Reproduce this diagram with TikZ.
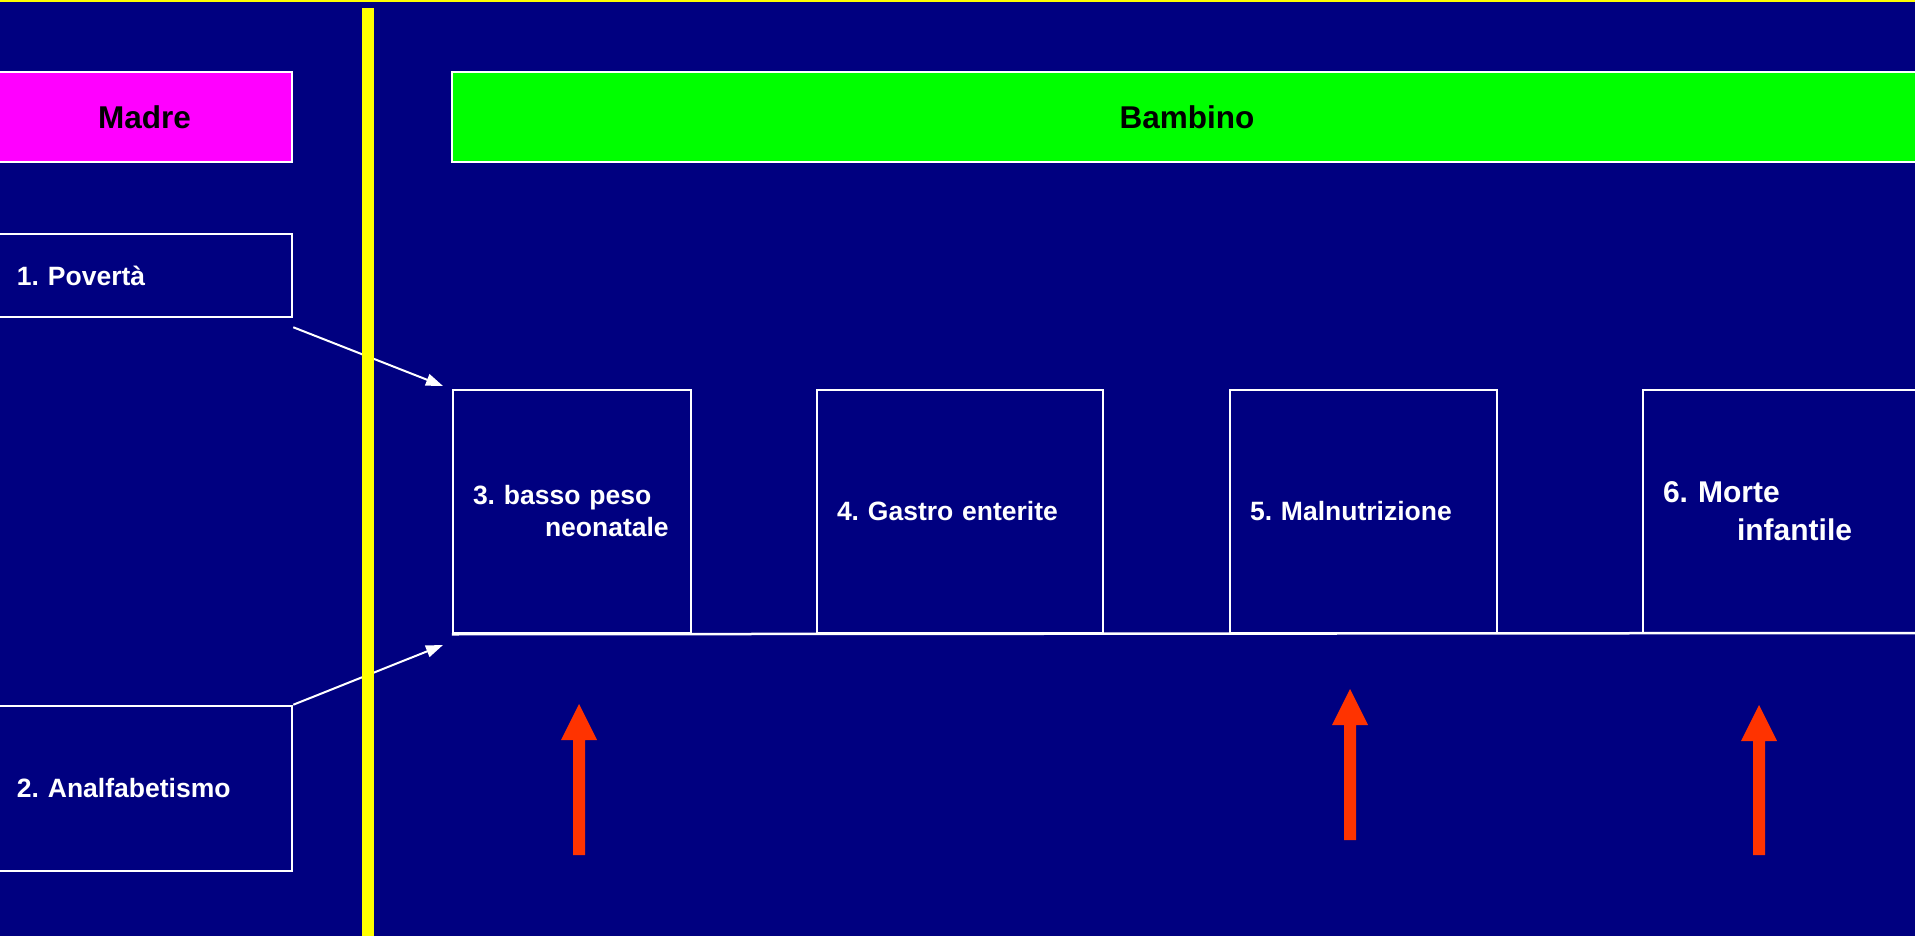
\documentclass[tikz,border=0pt]{standalone}
\usepackage{fontspec}
\setmainfont{Liberation Sans}
\usetikzlibrary{arrows.meta,calc}
\definecolor{navy}{HTML}{000080}
\definecolor{arrred}{HTML}{FF3300}
\definecolor{yel}{HTML}{FFFF00}
\definecolor{mag}{HTML}{FF00FF}
\definecolor{grn}{HTML}{00FF00}
\frenchspacing
\newcommand\redup[3]{%
  \fill[arrred] (#1-6,#3) -- (#1-6,#2+36) -- (#1-18,#2+36) -- (#1,#2) -- (#1+18,#2+36) -- (#1+6,#2+36) -- (#1+6,#3) -- cycle;}
\begin{document}
\begin{tikzpicture}[x=0.5pt,y=-0.5pt,
  box/.style={draw=white, fill=navy, line width=1.25pt, rectangle, inner sep=0pt, align=left,
    font=\bfseries\fontsize{13.25pt}{16pt}\selectfont, text=white},
  bigbox/.style={box, font=\bfseries\fontsize{15pt}{19pt}\selectfont},
  head/.style={draw=white, line width=1.25pt, rectangle, inner sep=0pt, text=black,
    font=\bfseries\fontsize{15.75pt}{19pt}\selectfont, minimum height=45pt},
  conn/.style={draw=white, line width=1pt, -{Triangle[length=8.5pt,width=6pt]}}
]
\useasboundingbox (0,0) rectangle (1915,936);
\fill[navy] (0,0) rectangle (1915,936);
\fill[yel] (0,0) rectangle (1915,2.5);

% headers
\node[head, fill=mag, minimum width=147.5pt] (madre) at (144.5,117) {Madre};
\node[head, fill=grn, minimum width=735pt] (bamb) at (1187,117) {Bambino};

% mother boxes
\node[box, minimum width=147.5pt, minimum height=41.5pt, text width=127.5pt] (pov) at (144.5,275.5) {1. Povertà};
\node[box, minimum width=147.5pt, minimum height=82.5pt, text width=127.5pt] (analf) at (144.5,788.5) {2. Analfabetismo};

% child boxes
\node[box, minimum width=119pt, minimum height=121.5pt, text width=99pt] (b3) at (572,511.5)
  {3. basso peso\\\hspace*{36pt}neonatale};
\node[box, minimum width=143pt, minimum height=121.5pt, text width=123pt] (b4) at (960,511.5)
  {4. Gastro enterite};
\node[box, minimum width=133.5pt, minimum height=121.5pt, text width=113.5pt] (b5) at (1363.5,511.5)
  {5. Malnutrizione};
\node[bigbox, minimum width=139.5pt, minimum height=121.5pt, text width=119.5pt] (b6) at (1782.5,511.5)
  {6. Morte\\\hspace*{37pt}infantile};

\coordinate (baseR) at (1915,633);
\draw[white, line width=1.25pt] (b3.south west) -- (baseR);

% connectors
\coordinate (t1) at (443,386);
\coordinate (t2) at (443,645);
\draw[conn] ($(pov.south east)+(0,9)$) -- (t1);
\draw[conn] (analf.north east) -- (t2);

% yellow separator
\fill[yel] (362,8) rectangle (374,936);

% red arrows
\redup{579}{704}{855}
\redup{1350}{689}{840}
\redup{1759}{705}{855}
\end{tikzpicture}
\end{document}
